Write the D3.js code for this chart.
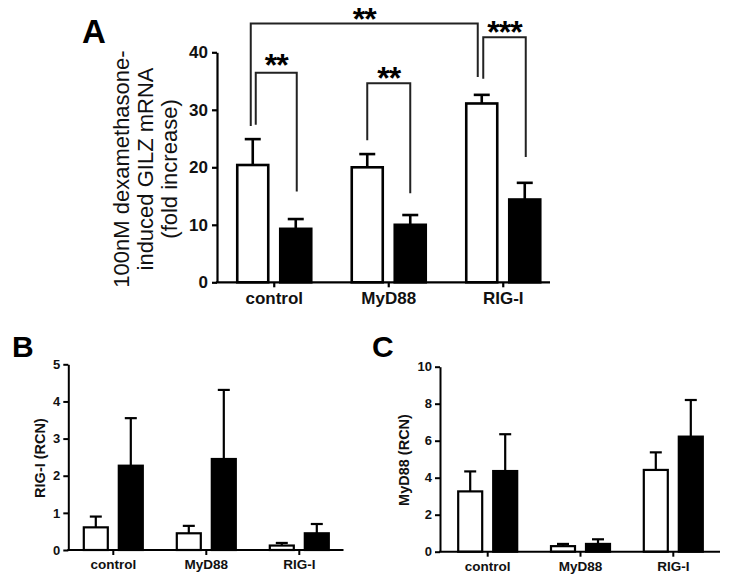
<!DOCTYPE html>
<html>
<head>
<meta charset="utf-8">
<script src="https://cdn.jsdelivr.net/npm/d3@7"></script>
<style>
  body { margin: 0; background: #fff; }
  svg { display: block; font-family: "Liberation Sans", Arial, sans-serif; }
</style>
</head>
<body>
<div id="fig"></div>
<script>
const groups = ["control", "MyD88", "RIG-I"];
const conditions = ["open", "filled"];

// Panel A - dexamethasone-induced GILZ mRNA (fold increase)
const gilzOpen = [20.4, 20.0, 31.1];
const gilzOpenErr = [4.5, 2.3, 1.5];
const gilzFilled = [9.3, 10.0, 14.4];
const gilzFilledErr = [1.7, 1.7, 2.9];
const gilzTicks = [0, 10, 20, 30, 40];

// Panel B - RIG-I (RCN)
const rigOpen = [0.61, 0.45, 0.12];
const rigOpenErr = [0.29, 0.2, 0.07];
const rigFilled = [2.27, 2.45, 0.45];
const rigFilledErr = [1.28, 1.86, 0.25];
const rigTicks = [0, 1, 2, 3, 4, 5];

// Panel C - MyD88 (RCN)
const mydOpen = [3.26, 0.3, 4.42];
const mydOpenErr = [1.08, 0.12, 0.95];
const mydFilled = [4.36, 0.42, 6.22];
const mydFilledErr = [1.99, 0.25, 1.98];
const mydTicks = [0, 2, 4, 6, 8, 10];

// significance brackets for panel A (values in axis units)
const gilzBrackets = [
  { from: ["control", "open"], to: ["control", "filled"], top: 36.45, leftEnd: 27.4, rightEnd: 15.8, dl: 3, dr: 1, label: "**", ldy: 3 },
  { from: ["control", "open"], to: ["RIG-I", "open"], top: 45.0, leftEnd: 27.2, rightEnd: 35.7, dl: -2, dr: -4, label: "**", ldy: 6 },
  { from: ["MyD88", "open"], to: ["MyD88", "filled"], top: 34.6, leftEnd: 24.7, rightEnd: 15.5, dl: 0, dr: 0, label: "**", ldy: 6 },
  { from: ["RIG-I", "open"], to: ["RIG-I", "filled"], top: 42.6, leftEnd: 35.4, rightEnd: 21.8, dl: 1.5, dr: 1, label: "***", ldy: 6 }
];

const width = 729, height = 581;
const svg = d3.select("#fig").append("svg")
  .attr("width", width)
  .attr("height", height);

function toRows(open, openErr, filled, filledErr) {
  const rows = [];
  groups.forEach((g, i) => {
    rows.push({ group: g, cond: "open", value: open[i], err: openErr[i] });
    rows.push({ group: g, cond: "filled", value: filled[i], err: filledErr[i] });
  });
  return rows;
}

function drawPanel(p) {
  const g = svg.append("g");
  const x = d3.scaleBand().domain(groups).range([p.bandStart, p.bandStart + 3 * p.step]);
  const half = p.bar + p.gap / 2;
  const sub = d3.scaleBand().domain(conditions).range([-half, half]).paddingInner(p.gap / (p.bar + p.gap));
  const y = d3.scaleLinear().domain([0, p.max]).range([p.bottom, p.top]);
  const cx = (grp, cond) => x(grp) + x.bandwidth() / 2 + sub(cond) + sub.bandwidth() / 2;

  // bars
  g.selectAll("rect.bar").data(p.rows).enter().append("rect")
    .attr("class", "bar")
    .attr("x", d => cx(d.group, d.cond) - p.bar / 2)
    .attr("y", d => y(d.value))
    .attr("width", p.bar)
    .attr("height", d => y(0) - y(d.value))
    .attr("fill", d => d.cond === "open" ? "#fff" : "#000")
    .attr("stroke", "#000")
    .attr("stroke-width", p.sw);

  // error bars (upper only)
  const eb = g.selectAll("g.err").data(p.rows).enter().append("g").attr("class", "err")
    .attr("stroke", "#000").attr("stroke-width", p.sw);
  eb.append("line")
    .attr("x1", d => cx(d.group, d.cond)).attr("x2", d => cx(d.group, d.cond))
    .attr("y1", d => y(d.value)).attr("y2", d => y(d.value + d.err));
  eb.append("line")
    .attr("x1", d => cx(d.group, d.cond) - p.cap).attr("x2", d => cx(d.group, d.cond) + p.cap)
    .attr("y1", d => y(d.value + d.err)).attr("y2", d => y(d.value + d.err));

  // y axis
  const ya = g.append("g")
    .attr("transform", `translate(${p.axisX},0)`)
    .call(d3.axisLeft(y).tickValues(p.ticks).tickFormat(d3.format("d"))
      .tickSize(p.tickLen).tickSizeOuter(0).tickPadding(p.yPad));
  ya.selectAll("path, line").attr("stroke", "#000").attr("stroke-width", p.axisW);
  ya.selectAll("text").attr("font-size", p.tickFont).attr("font-weight", "bold").attr("fill", "#111")
    .attr("font-family", "Liberation Sans, Arial, sans-serif");

  // x axis
  const xa = g.append("g")
    .attr("transform", `translate(0,${p.bottom})`)
    .call(d3.axisBottom(x).tickSize(p.tickLen).tickSizeOuter(0).tickPadding(p.xPad));
  xa.select(".domain").remove();
  xa.append("line")
    .attr("x1", p.axisX - p.axisW / 2).attr("x2", p.axisEnd)
    .attr("y1", 0).attr("y2", 0);
  xa.selectAll("line").attr("stroke", "#000").attr("stroke-width", p.axisW);
  xa.selectAll("text").attr("font-size", p.xFont).attr("font-weight", "bold").attr("fill", "#111")
    .attr("font-family", "Liberation Sans, Arial, sans-serif");

  // panel letter
  g.append("text")
    .attr("x", p.letterX).attr("y", p.letterY)
    .attr("font-size", p.letterFont).attr("font-weight", "bold")
    .text(p.letter);

  // y title
  const t = g.append("text")
    .attr("transform", `translate(${p.titleX},${p.titleY}) rotate(-90)`)
    .attr("text-anchor", "middle")
    .attr("font-size", p.titleFont)
    .attr("font-weight", p.titleWeight)
    .attr("fill", "#111");
  p.title.forEach((line, i) => {
    t.append("tspan").attr("x", 0).attr("dy", i === 0 ? 0 : p.titleLead).text(line);
  });

  // significance brackets
  if (p.brackets) {
    p.brackets.forEach(b => {
      const xl = cx(b.from[0], b.from[1]) + b.dl;
      const xr = cx(b.to[0], b.to[1]) + b.dr;
      g.append("path")
        .attr("d", `M${xl},${y(b.leftEnd)}V${y(b.top)}H${xr}V${y(b.rightEnd)}`)
        .attr("fill", "none").attr("stroke", "#222").attr("stroke-width", 2);
      g.append("text")
        .attr("x", (xl + xr) / 2).attr("y", y(b.top) + b.ldy)
        .attr("text-anchor", "middle")
        .attr("font-size", 32).attr("font-weight", "bold")
        .attr("letter-spacing", -1)
        .text(b.label);
    });
  }
}

drawPanel({
  rows: toRows(gilzOpen, gilzOpenErr, gilzFilled, gilzFilledErr),
  ticks: gilzTicks, max: 40, top: 52.3, bottom: 282.3,
  bandStart: 217, step: 114.5, axisX: 217, axisEnd: 550,
  bar: 31, gap: 12, sw: 2.6, cap: 8, axisW: 2.2, tickLen: 5,
  yPad: 4, xPad: 5, tickFont: 17, xFont: 17,
  letter: "A", letterX: 82, letterY: 43, letterFont: 33,
  title: ["100nM dexamethasone-", "induced GILZ mRNA", "(fold increase)"],
  titleX: 128.5, titleY: 169, titleFont: 22, titleWeight: "normal", titleLead: 24.3,
  brackets: gilzBrackets
});

drawPanel({
  rows: toRows(rigOpen, rigOpenErr, rigFilled, rigFilledErr),
  ticks: rigTicks, max: 5, top: 364.3, bottom: 550,
  bandStart: 66.8, step: 93, axisX: 68.3, axisEnd: 343.5,
  bar: 24, gap: 11, sw: 2.2, cap: 6, axisW: 2, tickLen: 5,
  yPad: 3, xPad: 4.5, tickFont: 13, xFont: 13.5,
  letter: "B", letterX: 12, letterY: 357, letterFont: 30,
  title: ["RIG-I (RCN)"],
  titleX: 44.5, titleY: 458, titleFont: 14.5, titleWeight: "bold", titleLead: 0
});

drawPanel({
  rows: toRows(mydOpen, mydOpenErr, mydFilled, mydFilledErr),
  ticks: mydTicks, max: 10, top: 366.7, bottom: 551.7,
  bandStart: 441.3, step: 92.8, axisX: 440, axisEnd: 720,
  bar: 24, gap: 11, sw: 2.2, cap: 6, axisW: 2, tickLen: 5,
  yPad: 3, xPad: 4.5, tickFont: 13, xFont: 13.5,
  letter: "C", letterX: 372, letterY: 357, letterFont: 30,
  title: ["MyD88 (RCN)"],
  titleX: 408.5, titleY: 460, titleFont: 14.5, titleWeight: "bold", titleLead: 0
});
</script>
</body>
</html>
